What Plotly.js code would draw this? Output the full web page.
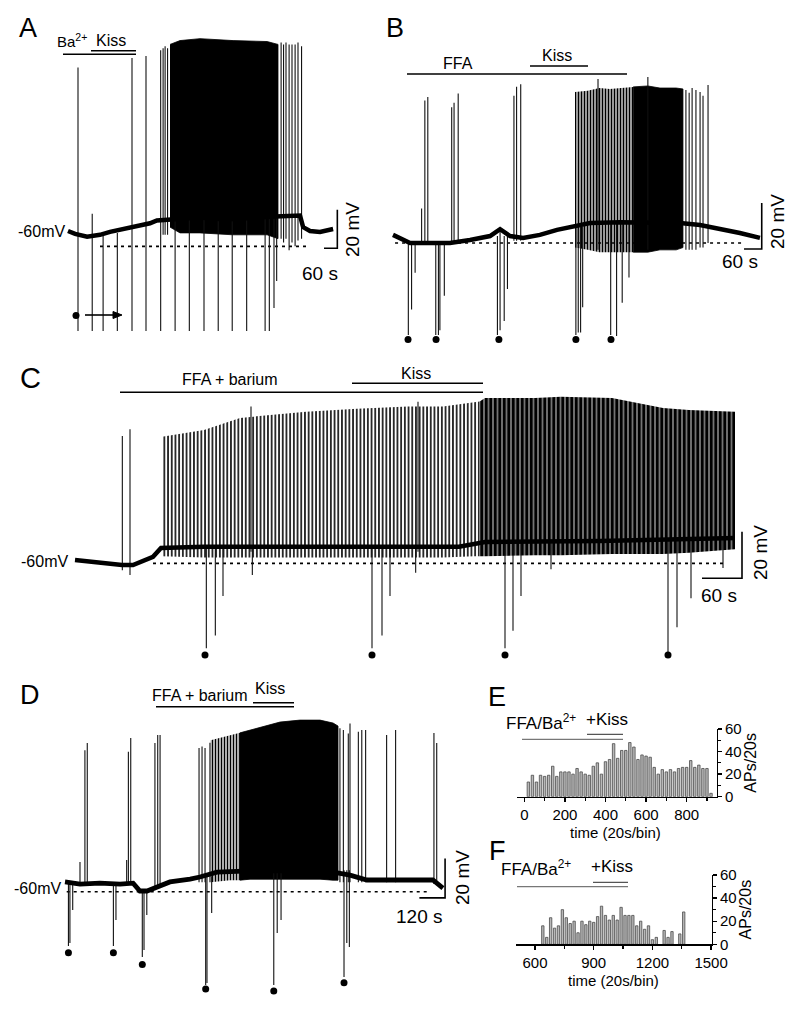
<!DOCTYPE html>
<html><head><meta charset="utf-8">
<script src="https://cdn.plot.ly/plotly-3.0.1.min.js"></script>
<style>html,body{margin:0;padding:0;background:#fff}</style>
</head><body><div id="chart" style="width:800px;height:1011px"></div>
<script>
// ===================== DATA (time in s, potential in mV) =====================
// ---- Panel A ----
const aBaseT = [0,32,86,144,189,257,302,369,400,482,594,707,819,932,1044,1058,1089,1134,1193];
const aBaseV = [-60,-61.5,-63,-62,-60.5,-59,-58,-56,-54.5,-54,-53,-54,-53,-52.5,-52,-58,-60,-60.5,-59];
const aEvT  = [45,109,158,222,288,351,417,428,437,448,482,546,612,676,739,804,887,906,927,939,959,970,981,995,1008,1022,1035,1051];
const aEvHi = [25,-51,-62,-61,30,31,34,35,36,35,-54,-53,-53,-54,-54,-53,-53,-53,-53,-53,38,37,38,37,37,37,38,36];
const aEvLo = [-112,-112,-112,-112,-112,-112,-112,-62,-62,-62,-112,-112,-112,-112,-112,-112,-112,-112,-100,-86,-64,-66,-64,-70,-66,-68,-65,-64];
const aBurstT  = [459,504,594,743,896,945];
const aBurstHi = [37,39,40,39,38.5,37];
const aBurstLo = [-58,-61,-61,-62,-62,-64];
const aRefT = [144,1076], aRefV = [-68,-68];
const aDotT = [36], aDotV = [-104];

// ---- Panel B ----
const bBaseT = [0,24,58,125,193,261,329,363,397,441,498,556,617,668,770,871,973,1041,1119,1176,1244];
const bBaseV = [-56.5,-57.8,-60,-60,-60,-58.7,-57,-54,-57,-57.8,-56.5,-54.3,-52.6,-51.3,-51,-51,-51.3,-52.2,-54,-55.7,-57.8];
const bEvT  = [97,108,118,199,207,221,410,419,433,695,864,993,1004,1014,1027,1041,1051,1068,
               52,63,75,145,154,159,174,354,363,377,388,620,628,636,643,738,758,777,800];
const bEvHi = [-45,2,3.5,-1,1,5,4,8,9,11.3,12.2,6.6,5.3,7.4,6.6,5.7,4,8.7,
               -60,-60,-60,-60,-60,-60,-60,-57,-55,-57,-57,-53,-53,-53,-53,-51,-51,-51,-51];
const bEvLo = [-60,-60,-60,-60,-60,-60,-59,-59,-59,-63,-63,-63,-63,-63,-63,-62,-62,-60,
               -100,-89,-73,-100,-100,-98,-83,-100,-98,-94,-80,-100,-99,-99,-88,-100,-100.5,-86,-75];
const bSparseT  = [617,660,700,735,814];
const bSparseHi = [5.7,6.2,7.4,7.0,7.9];
const bSparseLo = [-62,-63,-64,-64,-64];
const bBurstT  = [814,864,905,960,983];
const bBurstHi = [7.9,8.3,7.4,7.4,7];
const bBurstLo = [-64,-64,-63,-63,-62];
const bRefT = [7,1187], bRefV = [-60,-60];
const bDotT = [51,146,359,620,739], bDotV = [-102,-102,-102,-102,-102];

// ---- Panel C ----
const cBaseT = [0,70.5,87,117,129,193.5,337.5,576,615,787.5,990];
const cBaseV = [-59.6,-61.7,-61.7,-58.2,-54.4,-53.9,-53.9,-53.9,-51.8,-51.4,-50.1];
const cEvT  = [71,82.5,264,514.5,197,210.5,222,266,445.5,460.5,472.5,511,645,657,669,714,889.5,903,924,972];
const cEvHi = [-6.3,-3.4,6.4,8.5,-54,-54,-54,-54,-54,-54,-54,-54,-52,-52,-52,-52,-51,-51,-51,-51];
const cEvLo = [-64,-66,-56,-56,-97.5,-92,-75,-66,-97.5,-92,-75,-65,-97.5,-90,-75,-63.5,-99.5,-88.5,-76,-63];
const cSparseT  = [130.5,193.5,247.5,346.5,423,499.5,552,598.5,607];
const cSparseHi = [-6.6,-3.7,1.5,4.2,5.4,6.4,6.4,8.5,8.6];
const cSparseLo = [-58,-58.5,-58.5,-58.5,-58.5,-58.5,-58.5,-58,-58];
const cBurstT  = [607,615,690,729,805.5,882,921,990];
const cBurstHi = [8.6,10.1,10.1,10.6,10.1,5.8,4.9,4.2];
const cBurstLo = [-58,-58,-57.5,-57.5,-57,-57,-56.5,-55];
const cRefT = [117,973.5], cRefV = [-61,-61];
const cDotT = [195,445.5,645,889.5], cDotV = [-100.4,-100.4,-100.4,-100.4];

// ---- Panel D ----
const dBaseT = [0,70,163,257,318,350,383,430,490,584,630,710,864,1098,1252,1331,1410,1564,1718,1765];
const dBaseV = [-56.9,-58,-57.5,-58,-57.5,-61.5,-61.5,-59.5,-56.9,-55.4,-54.4,-51.9,-51.3,-51.3,-51.9,-53.4,-55.9,-55.9,-55.9,-60];
const dEvT  = [70,93,104,288,296,307,420,433,444,626,640,654,677,1284,1300,1323,1331,1370,1386,1404,1502,1544,1723,1736,
               16,23,36,226,238,361,369,382,657,663,685,975,991,1009,1303,1316,1328];
const dEvHi = [-46.8,10.2,13.8,-45.7,9.4,16.4,13.8,17.9,17.9,11.3,12,11.3,14,21.3,20.4,18.7,23.8,19.6,20.4,20.4,17.9,20.4,18.9,13.8,
               -57,-57,-57,-57.5,-57.5,-61,-61,-61,-54,-54,-54,-51,-51,-51,-51,-51,-51];
const dEvLo = [-58,-58,-58,-58,-58,-58,-60,-60,-60,-57,-57,-57,-57,-57,-57,-57,-57,-57,-57,-57,-57,-57,-58,-58,
               -89.5,-88,-71.2,-89.5,-76.3,-95.1,-91.6,-73.7,-109.4,-108.4,-72.7,-109.4,-82.9,-76.3,-105.3,-88,-90];
const dSparseT  = [680,771,817];
const dSparseHi = [15.3,17.9,19];
const dSparseLo = [-57,-56,-56];
const dBurstT  = [817,864,957,1004,1097,1191,1252,1275];
const dBurstHi = [19,20.4,23,24.5,25.5,25.5,24,22.5];
const dBurstLo = [-56,-55.5,-55.5,-55.5,-55.5,-55.5,-56,-56];
const dRefT = [8,1705], dRefV = [-61.9,-61.9];
const dDotT = [16,226,361,657,975,1303], dDotV = [-93,-93,-98.9,-111.4,-112.4,-108.2];

// ---- Panel E: APs per 20 s bin ----
const eBinT = [20,40,60,80,100,120,140,160,180,200,220,240,260,280,300,320,340,360,380,400,420,440,460,480,500,
               520,540,560,580,600,620,640,660,680,700,720,740,760,780,800,820,840,860,880,900,920];
const eAPs  = [13,19,13,19,18,19,27,18,22,22,22,20,25,22,20,19,27,30,20,31,33,47,34,41,41,
               48,44,33,37,36,35,26,20,24,22,24,22,25,26,26,32,26,28,25,25,3];
const eTicks = [0,200,400,600,800];

// ---- Panel F: APs per 20 s bin ----
const fBinT = [640,660,680,700,720,740,760,780,800,820,840,860,880,900,920,940,960,980,1000,1020,1040,1060,1080,1100,1120,
               1140,1160,1180,1200,1220,1260,1280,1300,1340,1360];
const fAPs  = [16,6,23,14,16,30,23,18,20,10,20,17,20,19,24,33,25,21,25,21,32,25,25,25,16,
               20,13,16,4,6,12,6,11,9,28];
const fTicks = [600,900,1200,1500];
const apTicks = [0,20,40,60];

// ===================== DRAWING =====================
const W = 800, H = 1011;
const PX = v => v / W, PY = v => 1 - v / H;
const FONT = 'Liberation Sans, Arial, sans-serif';

function rev(a){ return a.slice().reverse(); }
function segs(T, Hi, Lo){
  const x = [], y = [];
  T.forEach((t,i)=>{ x.push(t,t,null); y.push(Hi[i],Lo[i],null); });
  return {x, y};
}
function panelTraces(xa, ya, d, baseW){
  const out = [];
  (d.fills||[]).forEach(f=>{
    const tr = {type:'scatter', mode:'lines', xaxis:xa, yaxis:ya,
      x: f.T.concat(rev(f.T)), y: f.Hi.concat(rev(f.Lo)),
      fill:'toself', line:{width:0}, hoverinfo:'skip'};
    if (f.striped) {
      tr.fillcolor = '#ffffff';
      tr.fillpattern = {shape:'|', size:f.size||3.8, solidity:f.solidity||0.45, fgcolor:'#000', bgcolor:'#ffffff', fillmode:'replace'};
    } else { tr.fillcolor = '#000'; tr.line = {width:0.8, color:'#000'}; }
    out.push(tr);
  });
  out.push({type:'scatter', mode:'lines', xaxis:xa, yaxis:ya, x:d.refT, y:d.refV,
    line:{color:'#000', width:1.6, dash:'3px,4px'}, hoverinfo:'skip'});
  const s = segs(d.evT, d.evHi, d.evLo);
  out.push({type:'scatter', mode:'lines', xaxis:xa, yaxis:ya, x:s.x, y:s.y,
    line:{color:'#111', width:1.1}, connectgaps:false, hoverinfo:'skip'});
  out.push({type:'scatter', mode:'lines', xaxis:xa, yaxis:ya, x:d.baseT, y:d.baseV,
    line:{color:'#000', width:baseW||4.2}, hoverinfo:'skip'});
  out.push({type:'scatter', mode:'markers', xaxis:xa, yaxis:ya, x:d.dotT, y:d.dotV,
    marker:{color:'#000', size:7}, hoverinfo:'skip'});
  return out;
}

const traces = [].concat(
  panelTraces('x','y',{baseT:aBaseT,baseV:aBaseV,evT:aEvT,evHi:aEvHi,evLo:aEvLo,refT:aRefT,refV:aRefV,dotT:aDotT,dotV:aDotV,
    fills:[{T:aBurstT,Hi:aBurstHi,Lo:aBurstLo}]}, 4.5),
  panelTraces('x2','y2',{baseT:bBaseT,baseV:bBaseV,evT:bEvT,evHi:bEvHi,evLo:bEvLo,refT:bRefT,refV:bRefV,dotT:bDotT,dotV:bDotV,
    fills:[{T:bSparseT,Hi:bSparseHi,Lo:bSparseLo,striped:true,size:3,solidity:0.6},{T:bBurstT,Hi:bBurstHi,Lo:bBurstLo}]}, 4.5),
  panelTraces('x3','y3',{baseT:cBaseT,baseV:cBaseV,evT:cEvT,evHi:cEvHi,evLo:cEvLo,refT:cRefT,refV:cRefV,dotT:cDotT,dotV:cDotV,
    fills:[{T:cSparseT,Hi:cSparseHi,Lo:cSparseLo,striped:true,size:3.7,solidity:0.42},
           {T:cBurstT,Hi:cBurstHi,Lo:cBurstLo,striped:true,size:4.5,solidity:0.82}]}, 4.5),
  panelTraces('x4','y4',{baseT:dBaseT,baseV:dBaseV,evT:dEvT,evHi:dEvHi,evLo:dEvLo,refT:dRefT,refV:dRefV,dotT:dDotT,dotV:dDotV,
    fills:[{T:dSparseT,Hi:dSparseHi,Lo:dSparseLo,striped:true,size:3,solidity:0.55},{T:dBurstT,Hi:dBurstHi,Lo:dBurstLo}]}, 4.8),
  [{type:'bar', xaxis:'x5', yaxis:'y5', x:eBinT, y:eAPs, width:12,
    marker:{color:'#b8b8b8', line:{color:'#4a4a4a', width:0.8}}, hoverinfo:'skip'},
   {type:'bar', xaxis:'x6', yaxis:'y6', x:fBinT, y:fAPs, width:12,
    marker:{color:'#b8b8b8', line:{color:'#4a4a4a', width:0.8}}, hoverinfo:'skip'}]
);

function hid(dom, rng, anchor){ return {domain:dom, range:rng, visible:false, fixedrange:true, anchor:anchor}; }
const tickFont = {family:FONT, size:15, color:'#000'};
function histX(dom, rng, anchor, tv, minorDt){
  return {domain:dom, range:rng, anchor:anchor, showline:true, linecolor:'#000', linewidth:1.3,
    ticks:'outside', ticklen:4, tickwidth:1.3, tickcolor:'#000', tickmode:'array', tickvals:tv,
    minor:{dtick:minorDt, tick0:0, ticks:'outside', ticklen:3, tickcolor:'#000', tickwidth:1.2, showgrid:false},
    showgrid:false, zeroline:false, tickfont:tickFont, fixedrange:true};
}
function histY(dom, anchor){
  return {domain:dom, range:[0,60], anchor:anchor, side:'right', showline:true, linecolor:'#000', linewidth:1.3,
    ticks:'outside', ticklen:4, tickwidth:1.3, tickcolor:'#000', tickmode:'array', tickvals:apTicks,
    minor:{dtick:10, tick0:0, ticks:'outside', ticklen:3, tickcolor:'#000', tickwidth:1.2, showgrid:false},
    showgrid:false, zeroline:false, tickfont:tickFont, fixedrange:true,
    title:{text:'APs/20s', font:{family:FONT, size:16, color:'#000'}, standoff:3}};
}

const layout = {
  width:W, height:H, margin:{l:0,r:0,t:0,b:0}, paper_bgcolor:'#fff', plot_bgcolor:'rgba(0,0,0,0)',
  showlegend:false, bargap:0,
  xaxis:  hid([PX(60),PX(340)], [-36,1224], 'y'),
  yaxis:  hid([PY(345),PY(30)], [-119.3,44.5], 'x'),
  xaxis2: hid([PX(385),PX(775)], [-27.1,1295], 'y2'),
  yaxis2: hid([PY(345),PY(60)], [-104.4,19.6], 'x2'),
  xaxis3: hid([PX(70),PX(745)], [-7.5,1005], 'y3'),
  yaxis3: hid([PY(665),PY(390)], [-104.7,13.5], 'x3'),
  xaxis4: hid([PX(55),PX(450)], [-46.7,1798], 'y4'),
  yaxis4: hid([PY(1000),PY(715)], [-117,28.1], 'x4'),
  xaxis5: histX([PX(517),PX(716.7)], [-36,948], 'y5', eTicks, 100),
  yaxis5: histY([PY(796.7),PY(729)], 'x5'),
  xaxis6: histX([PX(516),PX(711.7)], [503,1503], 'y6', fTicks, 150),
  yaxis6: histY([PY(944.3),PY(875)], 'x6'),
  shapes:[], annotations:[]
};

// treatment bars (paper coordinates)
function hbar(x0,x1,y,color,w){
  layout.shapes.push({type:'line', xref:'paper', yref:'paper', x0:PX(x0), x1:PX(x1), y0:PY(y), y1:PY(y),
    line:{color:color||'#000', width:w||1.5}});
}
hbar(63,136,54.3); hbar(91,136,50.7);
hbar(407,627,74); hbar(530,588,66);
hbar(120,483,392.3); hbar(352,483,383.3);
hbar(156,294,706.7); hbar(253,294,702.7);
hbar(522,623,739.3,'#777',1.3); hbar(587,623,734.3,'#555',1.3);
hbar(517,628,886.7,'#777',1.3); hbar(593,628,882.3,'#555',1.3);

// scale bars (data coordinates of each trace panel)
function scalebar(xr, yr, t, v, dt, dv){
  layout.shapes.push({type:'path', xref:xr, yref:yr,
    path:`M ${t-dt} ${v} L ${t} ${v} L ${t} ${v+dv}`, line:{color:'#000', width:1.6}});
}
scalebar('x','y',1212,-69,60,20);
scalebar('x2','y2',1250,-62.6,60,20);
scalebar('x3','y3',1000.5,-67.4,60,20);
scalebar('x4','y4',1775,-65,120,20);

// arrow under A (paper coordinates)
layout.shapes.push({type:'line', xref:'paper', yref:'paper', x0:PX(85), x1:PX(117), y0:PY(315), y1:PY(315), line:{color:'#000', width:1.6}});
layout.shapes.push({type:'path', xref:'paper', yref:'paper', fillcolor:'#000', line:{color:'#000', width:1},
  path:`M ${PX(122)} ${PY(315)} L ${PX(113)} ${PY(311.5)} L ${PX(113)} ${PY(318.5)} Z`});

function txt(s, x, y, size, opts){
  layout.annotations.push(Object.assign({text:s, xref:'paper', yref:'paper', x:PX(x), y:PY(y),
    showarrow:false, font:{family:FONT, size:size, color:'#000'}, xanchor:'center', yanchor:'middle'}, opts||{}));
}
// panel letters
txt('A',28,28,27); txt('B',395,28,27); txt('C',30,378,29); txt('D',30,695,27); txt('E',497,697,27); txt('F',497,851,27);
// treatment labels
txt('Ba<sup>2+</sup>',72,40,15); txt('Kiss',111,40,16);
txt('FFA',458,63,16); txt('Kiss',557,56,16);
txt('FFA + barium',230,379,16); txt('Kiss',416,373,16);
txt('FFA + barium',200,695,16); txt('Kiss',270,688,16);
txt('FFA/Ba<sup>2+</sup>',541,722,17); txt('+Kiss',607,719,17);
txt('FFA/Ba<sup>2+</sup>',536,868,17); txt('+Kiss',612,866,17);
// -60mV labels
txt('-60mV',67,231,16,{xanchor:'right'});
txt('-60mV',70,561,16,{xanchor:'right'});
txt('-60mV',63,888,16,{xanchor:'right'});
// scale bar labels
txt('20 mV',352,230,19,{textangle:-90}); txt('60 s',320,273,19);
txt('20 mV',777,222,19,{textangle:-90}); txt('60 s',740,262,19);
txt('20 mV',760,553,19,{textangle:-90}); txt('60 s',719,595,19);
txt('20 mV',462,878,19,{textangle:-90}); txt('120 s',419,916,19);
// histogram x titles
txt('time (20s/bin)',615,832,15);
txt('time (20s/bin)',613,980,15);

Plotly.newPlot('chart', traces, layout, {staticPlot:true, displayModeBar:false});
</script></body></html>
